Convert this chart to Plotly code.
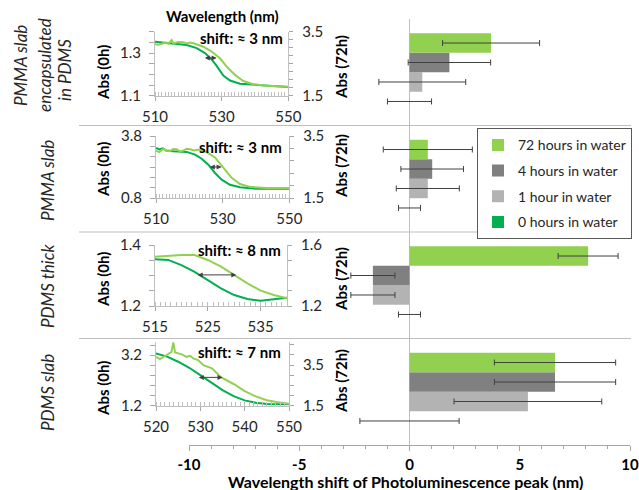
import plotly.graph_objects as go

W, H = 639, 490
FONT = "Lato"
TXT = "#262626"
AX = "#BFBFBF"
TK = "#A6A6A6"

# ---------------- main bar chart data ----------------
CATEGORIES = ["PDMS slab", "PDMS thick", "PMMA slab", "PMMA slab encapsulated in PDMS"]
SERIES = ["0 hours in water", "1 hour in water", "4 hours in water", "72 hours in water"]
LEGEND_RANK = [4, 3, 2, 1]
SHIFT_0H = [0, 0, 0, 0]
ERR_0H = [2.25, 0.5, 0.5, 1.0]
SHIFT_1H = [5.37, -1.66, 0.83, 0.58]
ERR_1H = [3.35, 1.0, 1.43, 1.97]
SHIFT_4H = [6.6, -1.66, 1.03, 1.81]
ERR_4H = [2.75, 1.0, 1.42, 1.87]
SHIFT_72H = [6.6, 8.1, 0.83, 3.7]
ERR_72H = [2.75, 1.36, 2.02, 2.2]
COLORS = ["#00B050", "#B3B3B3", "#808080", "#92D050"]
MAIN_TICKVALS = [-10, -5, 0, 5, 10]
MAIN_TICKTEXT = ["-10", "-5", "0", "5", "10"]

# ---------------- inset spectra ----------------
I1_WL_0H = [510, 515.5, 519.5, 522.5, 525, 527, 528.5, 530.5, 532.5, 535.5, 540.5, 545.5, 550]
I1_ABS_0H = [1.353, 1.343, 1.338, 1.323, 1.300, 1.270, 1.240, 1.194, 1.171, 1.156, 1.152, 1.145, 1.141]
I1_WL_72H = [510, 511, 512.5, 513.5, 514, 515, 515.5, 516, 517, 518.5, 519.5, 520.5, 521.5,
             524.5, 527, 529.5, 531.5, 534, 536.5, 539.5, 543.5, 550]
I1_ABS_72H = [3.11, 3.09, 3.14, 3.16, 3.12, 3.24, 3.13, 3.14, 3.18, 3.17, 3.13, 3.16, 3.14,
              3.03, 2.88, 2.67, 2.41, 2.15, 1.96, 1.86, 1.81, 1.78]

I2_WL_0H = [510, 511, 512, 513, 515.2, 519.2, 521.7, 523.7, 525.7, 527.7, 529.7, 532.2, 535.2, 540.2, 550]
I2_ABS_0H = [3.22, 3.15, 3.20, 3.10, 3.06, 3.03, 2.90, 2.70, 2.41, 2.01, 1.69, 1.44, 1.32, 1.25, 1.25]
I2_WL_72H = [510, 511, 512.2, 513.2, 514.2, 515.2, 516.2, 517.2, 518.2, 519.2, 520.2, 521.5,
             522.7, 525.2, 527.7, 530.2, 532.7, 535.2, 538.2, 543.2, 550]
I2_ABS_72H = [3.03, 2.98, 3.09, 3.02, 3.01, 3.08, 3.07, 3.00, 3.03, 3.09, 3.07, 3.03,
              3.06, 2.98, 2.81, 2.47, 2.15, 1.95, 1.86, 1.82, 1.82]

I3_WL_0H = [515, 517.5, 520, 522.5, 525, 527.5, 530, 532.5, 535, 537.5, 540]
I3_ABS_0H = [1.353, 1.351, 1.334, 1.312, 1.285, 1.258, 1.236, 1.223, 1.217, 1.222, 1.227]
I3_WL_72H = [515, 517.5, 520, 522.5, 525, 527.5, 530, 532.5, 535, 537.5, 540]
I3_ABS_72H = [1.523, 1.530, 1.534, 1.534, 1.502, 1.458, 1.403, 1.349, 1.301, 1.272, 1.250]

I4_WL_0H = [520, 522.5, 525, 527.5, 530, 532.5, 535, 537.5, 540, 542.5, 545, 550]
I4_ABS_0H = [3.27, 3.14, 2.94, 2.70, 2.41, 2.11, 1.82, 1.58, 1.41, 1.32, 1.27, 1.26]
I4_WL_72H = [520, 520.9, 522.4, 523.5, 523.9, 524.3, 525.8, 526.9, 527.7, 528.4, 529.5, 530.7,
             532.6, 534.8, 537.5, 540, 542.5, 545, 547.5, 550]
I4_ABS_72H = [3.91, 3.80, 4.00, 4.16, 4.62, 4.13, 4.03, 3.91, 3.96, 3.83, 3.75, 3.50,
              3.34, 2.88, 2.57, 2.22, 1.96, 1.77, 1.67, 1.60]

SHIFT_TEXT = ["shift: ≈ 3 nm", "shift: ≈ 3 nm", "shift: ≈ 8 nm", "shift: ≈ 7 nm"]
ARROW_FROM = [524.5, 525.7, 522.8, 529.3]
ARROW_TO = [528.5, 529.7, 530.4, 535.0]
ARROW_LEVEL = [1.277, 2.30, 1.302, 2.32]

INSET_XRANGE = [[510, 550], [510, 550], [515, 540], [520, 550]]
INSET_XDTICK = [20, 20, 10, 10]
INSET_LRANGE = [[1.1, 1.4], [0.8, 3.8], [1.2, 1.4], [1.2, 3.72]]
INSET_LDTICK = [0.2, 3, 0.2, 2]
INSET_LMINOR = [0.05, 0.5, 0.05, 0.4]
INSET_RRANGE = [[1.5, 3.5], [1.5, 3.5], [1.2, 1.6], [1.5, 4.64]]
INSET_RDTICK = [2, 2, 0.4, 2]
INSET_RMINOR = [0.25, 0.4, 0.1, 0.5]

INSETS = [
    (I1_WL_0H, I1_ABS_0H, I1_WL_72H, I1_ABS_72H),
    (I2_WL_0H, I2_ABS_0H, I2_WL_72H, I2_ABS_72H),
    (I3_WL_0H, I3_ABS_0H, I3_WL_72H, I3_ABS_72H),
    (I4_WL_0H, I4_ABS_0H, I4_WL_72H, I4_ABS_72H),
]

# layout geometry (pixels)
INSET_BOX = [(155, 288.3, 31.7, 95.7), (156, 289.3, 136, 198), (155, 287, 245, 306), (156, 289, 342, 405.7)]
SHIFT_POS = [(241, 37.7), (240, 147.3), (239, 250), (239, 352.3)]
ABS0_POS = [73, 170, 280, 389]
ABS72_POS = [67, 166, 279, 381]


def px(x):
    return x / W


def py(y):
    return 1 - y / H


fig = go.Figure()

bar_sets = [(SHIFT_0H, ERR_0H), (SHIFT_1H, ERR_1H), (SHIFT_4H, ERR_4H), (SHIFT_72H, ERR_72H)]
for name, (vals, errs), col, rank in zip(SERIES, bar_sets, COLORS, LEGEND_RANK):
    fig.add_trace(go.Bar(
        y=CATEGORIES, x=vals, orientation="h", name=name, marker_color=col,
        marker_line_width=0, legendgroup=name, legendrank=rank,
        error_x=dict(type="data", array=errs, color="#404040", thickness=1, width=3),
        xaxis="x", yaxis="y",
    ))

tickfont = dict(family=FONT, size=15, color=TXT)
layout = dict(
    width=W, height=H, autosize=False,
    margin=dict(l=0, r=0, t=0, b=0, autoexpand=False),
    paper_bgcolor="white", plot_bgcolor="rgba(0,0,0,0)",
    font=dict(family=FONT, size=15, color=TXT),
    barmode="group", bargap=0.268, bargroupgap=0,
    showlegend=True,
    legend=dict(x=px(632), y=py(128.3), xanchor="right", yanchor="top",
                bordercolor="#595959", borderwidth=1, bgcolor="white",
                font=dict(family=FONT, size=14, color=TXT),
                traceorder="grouped", tracegroupgap=4.5, itemwidth=30),
    xaxis=dict(domain=[px(189), px(630)], range=[-10, 10], anchor="y",
               tickmode="array", tickvals=MAIN_TICKVALS, ticktext=MAIN_TICKTEXT,
               ticks="outside", ticklen=5, tickcolor=TK, showline=True, linecolor=TK,
               showgrid=False, zeroline=True, zerolinecolor=AX, zerolinewidth=1,
               tickfont=dict(family=FONT, size=15, color="black", weight="bold"),
               ticklabelstandoff=1,
               minor=dict(tickmode="linear", tick0=0, dtick=1, ticks="outside", ticklen=3, tickcolor=TK)),
    yaxis=dict(domain=[py(445), py(19)], anchor="x", type="category",
               categoryorder="array", categoryarray=CATEGORIES, range=[-0.5, 3.5],
               showticklabels=False, showgrid=False, showline=False, zeroline=False, ticks=""),
)

annotations = []
shapes = []

for k, (wl0, a0, wl72, a72) in enumerate(INSETS):
    xa = k + 2
    yl = 2 * k + 2
    yr = 2 * k + 3
    x0, x1, y0, y1 = INSET_BOX[k]
    xr = INSET_XRANGE[k]
    layout[f"xaxis{xa}"] = dict(
        domain=[px(x0), px(x1)], range=xr, anchor=f"y{yl}",
        tickmode="linear", tick0=xr[0], dtick=INSET_XDTICK[k],
        ticks="outside", ticklen=4, tickcolor=TK, showline=True, linecolor=AX,
        showgrid=False, zeroline=False, tickfont=tickfont, ticklabelstandoff=3,
        minor=dict(tickmode="linear", tick0=xr[0], dtick=1, ticks="inside", ticklen=4, tickcolor=AX),
    )
    lr = INSET_LRANGE[k]
    layout[f"yaxis{yl}"] = dict(
        domain=[py(y1), py(y0)], range=lr, anchor=f"x{xa}", side="left",
        tickmode="linear", tick0=lr[0], dtick=INSET_LDTICK[k],
        ticks="outside", ticklen=5, tickcolor=TK, showline=True, linecolor=AX,
        showgrid=False, zeroline=False, tickfont=tickfont, ticklabelstandoff=5,
        minor=dict(tickmode="linear", tick0=lr[0], dtick=INSET_LMINOR[k], ticks="outside", ticklen=5, tickcolor=TK),
    )
    rr = INSET_RRANGE[k]
    layout[f"yaxis{yr}"] = dict(
        domain=[py(y1), py(y0)], range=rr, anchor=f"x{xa}", side="right", overlaying=f"y{yl}",
        tickmode="linear", tick0=rr[0], dtick=INSET_RDTICK[k],
        ticks="outside", ticklen=4, tickcolor=TK, showline=True, linecolor=AX,
        showgrid=False, zeroline=False, tickfont=tickfont, ticklabelstandoff=6,
        minor=dict(tickmode="linear", tick0=rr[0], dtick=INSET_RMINOR[k], ticks="outside", ticklen=4, tickcolor=TK),
    )
    fig.add_trace(go.Scatter(x=wl0, y=a0, mode="lines", line=dict(color="#00B050", width=2),
                             xaxis=f"x{xa}", yaxis=f"y{yl}", showlegend=False, hoverinfo="skip"))
    fig.add_trace(go.Scatter(x=wl72, y=a72, mode="lines", line=dict(color="#92D050", width=2),
                             xaxis=f"x{xa}", yaxis=f"y{yr}", showlegend=False, hoverinfo="skip"))
    annotations.append(dict(x=ARROW_TO[k], y=ARROW_LEVEL[k], ax=ARROW_FROM[k], ay=ARROW_LEVEL[k],
                            xref=f"x{xa}", yref=f"y{yl}", axref=f"x{xa}", ayref=f"y{yl}",
                            text="", showarrow=True, arrowhead=2, arrowside="end+start",
                            arrowsize=1, arrowwidth=1, arrowcolor="#404040", standoff=0, startstandoff=0))
    sx, sy = SHIFT_POS[k]
    annotations.append(dict(x=px(sx), y=py(sy), xref="paper", yref="paper", text=SHIFT_TEXT[k],
                            showarrow=False, xanchor="center", yanchor="middle",
                            font=dict(family=FONT, size=15, color="black", weight="bold")))
    annotations.append(dict(x=px(103), y=py(ABS0_POS[k]), xref="paper", yref="paper", text="Abs (0h)",
                            showarrow=False, textangle=-90, xanchor="center", yanchor="middle",
                            font=dict(family=FONT, size=15, color="black", weight="bold")))
    annotations.append(dict(x=px(341), y=py(ABS72_POS[k]), xref="paper", yref="paper", text="Abs (72h)",
                            showarrow=False, textangle=-90, xanchor="center", yanchor="middle",
                            font=dict(family=FONT, size=15, color="black", weight="bold")))

annotations.append(dict(x=px(222.5), y=py(16), xref="paper", yref="paper", text="Wavelength (nm)",
                        showarrow=False, xanchor="center", yanchor="middle",
                        font=dict(family=FONT, size=15, color="black", weight="bold")))
annotations.append(dict(x=px(406), y=py(481), xref="paper", yref="paper",
                        text="Wavelength shift of Photoluminescence peak (nm)",
                        showarrow=False, xanchor="center", yanchor="middle",
                        font=dict(family=FONT, size=16, color="black", weight="bold")))

ROW_LABELS = [("PMMA slab", 20, 66), ("encapsulated", 44, 65), ("in PDMS", 65, 70),
              ("PMMA slab", 47, 181), ("PDMS thick", 47, 286), ("PDMS slab", 47, 393)]
for t, x, y in ROW_LABELS:
    annotations.append(dict(x=px(x), y=py(y), xref="paper", yref="paper", text=t, showarrow=False,
                            textangle=-90, xanchor="center", yanchor="middle",
                            font=dict(family=FONT, size=17, color=TXT, style="italic")))

for b in [0.5, 1.5, 2.5]:
    shapes.append(dict(type="line", xref="paper", yref="y", x0=px(79), x1=px(631), y0=b, y1=b,
                       line=dict(color=AX, width=1), layer="below"))

layout["annotations"] = annotations
layout["shapes"] = shapes
fig.update_layout(**layout)

fig.write_html("out.html", config={"displayModeBar": False},
               post_script="document.body.style.margin='0px';")
